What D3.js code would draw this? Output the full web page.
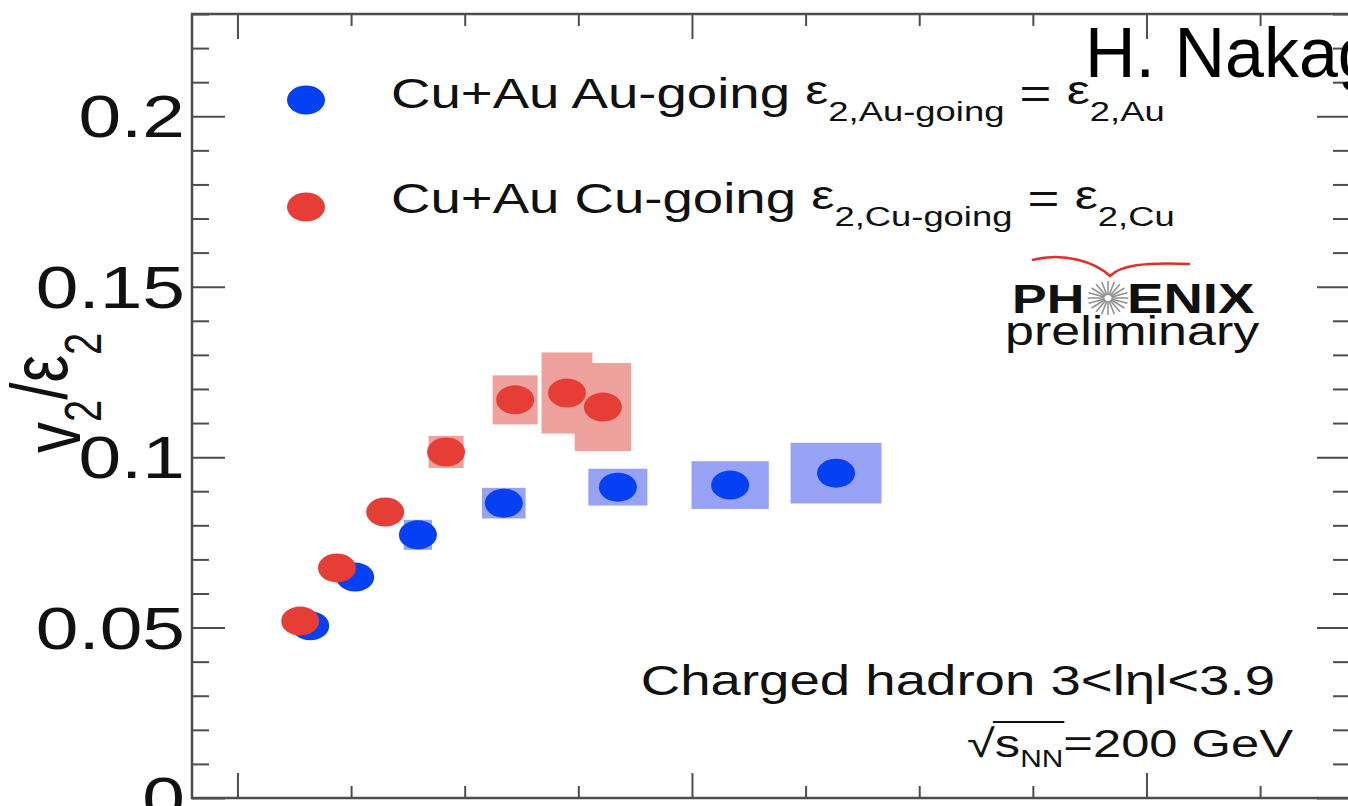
<!DOCTYPE html>
<html>
<head>
<meta charset="utf-8">
<script src="https://cdn.jsdelivr.net/npm/d3@7"></script>
<style>
  html, body { margin: 0; padding: 0; background: #fff; overflow: hidden; }
  svg { display: block; }
  text { font-family: "Liberation Sans", Arial, Helvetica, sans-serif; fill: #111; }
</style>
</head>
<body>
<svg id="chart" width="1348" height="806"></svg>
<script>
// Cu+Au, Au-going side (blue): x, v2/eps2, systematic half-extents
const auX    = [11.60, 12.59, 13.97, 15.86, 18.37, 20.84, 23.17];
const auY    = [0.0505, 0.0648, 0.0772, 0.0865, 0.0912, 0.0918, 0.0953];
const auSysX = [0.25, 0.25, 0.31, 0.48, 0.65, 0.85, 1.00];
const auSysY = [0.0020, 0.0020, 0.0044, 0.0045, 0.0054, 0.0070, 0.0089];

// Cu+Au, Cu-going side (red)
const cuX    = [11.38, 12.19, 13.25, 14.59, 16.11, 17.25, 18.04];
const cuY    = [0.0519, 0.0675, 0.0839, 0.1015, 0.1168, 0.1188, 0.1147];
const cuSysX = [0.25, 0.25, 0.30, 0.385, 0.495, 0.56, 0.62];
const cuSysY = [0.0020, 0.0020, 0.0030, 0.0047, 0.0072, 0.0119, 0.0129];

// Axis ticks
const yMajor = [0, 0.05, 0.1, 0.15, 0.2];
const yTickLabels = ["0", "0.05", "0.1", "0.15", "0.2"];
const xMajor = [10, 20, 30];

const STRETCH = 1.3;           // horizontal aspect of the whole figure
const BLUE = "#0540f2", BLUE_SYS = "#98a2f4";
const RED = "#e63e36", RED_SYS = "#efa19e";
const AXIS = "#4d4d4d";

const svg = d3.select("#chart");

const x = d3.scaleLinear().domain([9, 34.5]).range([192, 1351]);
const y = d3.scaleLinear().domain([0, 0.23]).range([798, 14]);

const yMinor = d3.range(0, 24).map(i => i / 100)
  .filter(v => !yMajor.some(m => Math.abs(m - v) < 1e-9));
const xMinor = d3.range(0, 15).map(i => 2.5 * i)
  .filter(v => v > 9 && v < 34.5 && !xMajor.includes(v));

// ---- systematic boxes ----
function sysBoxes(xs, ys, hx, hy, color) {
  svg.append("g").selectAll("rect")
    .data(xs.map((v, i) => ({ cx: v, cy: ys[i], hx: hx[i], hy: hy[i] })))
    .join("rect")
    .attr("x", d => x(d.cx - d.hx))
    .attr("width", d => x(d.cx + d.hx) - x(d.cx - d.hx))
    .attr("y", d => y(d.cy + d.hy))
    .attr("height", d => y(d.cy - d.hy) - y(d.cy + d.hy))
    .attr("fill", color);
}
sysBoxes(auX, auY, auSysX, auSysY, BLUE_SYS);
sysBoxes(cuX, cuY, cuSysX, cuSysY, RED_SYS);

// ---- markers ----
function markers(xs, ys, color) {
  svg.append("g").selectAll("ellipse")
    .data(xs.map((v, i) => [v, ys[i]]))
    .join("ellipse")
    .attr("cx", d => x(d[0]))
    .attr("cy", d => y(d[1]))
    .attr("rx", 19).attr("ry", 14.5)
    .attr("fill", color);
}
markers(auX, auY, BLUE);
markers(cuX, cuY, RED);

// ---- frame and ticks ----
function ticks(axisFn, scale, values, size, transform) {
  svg.append("g")
    .attr("transform", transform)
    .call(axisFn(scale).tickValues(values).tickSize(size).tickFormat(""))
    .call(g => g.select(".domain").remove())
    .call(g => g.selectAll("line").attr("stroke", AXIS).attr("stroke-width", 2));
}
ticks(d3.axisRight, y, yMajor, 33, "translate(192,0)");
ticks(d3.axisRight, y, yMinor, 17, "translate(192,0)");
ticks(d3.axisLeft, y, yMajor, 33, "translate(1350,0)");
ticks(d3.axisLeft, y, yMinor, 17, "translate(1350,0)");
ticks(d3.axisBottom, x, xMajor, 25, "translate(0,14)");
ticks(d3.axisBottom, x, xMinor, 12, "translate(0,14)");
ticks(d3.axisTop, x, xMajor, 25, "translate(0,798)");
ticks(d3.axisTop, x, xMinor, 12, "translate(0,798)");

svg.append("rect")
  .attr("x", 192).attr("y", 14)
  .attr("width", 1350 - 192).attr("height", 798 - 14)
  .attr("fill", "none").attr("stroke", AXIS).attr("stroke-width", 2.5);

// stretched text helper: a group anchored at (px, py), widened horizontally
function stretched(px, py) {
  return svg.append("g").attr("transform", `translate(${px},${py}) scale(${STRETCH},1)`);
}

// ---- y tick labels ----
yMajor.forEach((v, i) => {
  stretched(185, y(v) + 21).append("text")
    .attr("text-anchor", "end")
    .attr("font-size", 59)
    .text(yTickLabels[i]);
});

// ---- y axis title: v2/eps2 ----
const yt = svg.append("g")
  .attr("transform", `translate(80,453) scale(${STRETCH},1) rotate(-90)`)
  .append("text").attr("font-size", 62);
yt.append("tspan").text("v");
yt.append("tspan").attr("font-size", 40).attr("dy", 16).text("2");
yt.append("tspan").attr("dy", -26).text("/ε");
yt.append("tspan").attr("font-size", 40).attr("dy", 26).text("2");

// ---- legend ----
const legend = [
  { color: BLUE, cy: 100, base: 108, label: "Cu+Au Au-going ", sub1: "2,Au-going", sub2: "2,Au" },
  { color: RED,  cy: 207, base: 213, label: "Cu+Au Cu-going ", sub1: "2,Cu-going", sub2: "2,Cu" }
];
legend.forEach(l => {
  svg.append("ellipse").attr("cx", 306).attr("cy", l.cy)
    .attr("rx", 19).attr("ry", 14.5).attr("fill", l.color);
  const t = stretched(391, l.base).append("text").attr("font-size", 42);
  t.append("tspan").text(l.label);
  t.append("tspan").attr("font-size", 40).attr("dy", -4).text("ε");
  t.append("tspan").attr("font-size", 28).attr("dy", 17).text(l.sub1);
  t.append("tspan").attr("dy", -13).text(" = ");
  t.append("tspan").attr("font-size", 40).attr("dy", -4).text("ε");
  t.append("tspan").attr("font-size", 28).attr("dy", 17).text(l.sub2);
});

// ---- PHENIX preliminary logo ----
svg.append("path")
  .attr("d", "M1032,260 C1065,252 1095,262 1110,276 C1120,266 1140,262 1190,264")
  .attr("fill", "none").attr("stroke", "#e0302a").attr("stroke-width", 2.5);
stretched(1012, 313).append("text")
  .attr("font-size", 40).attr("font-weight", "bold").text("PH");
stretched(1127, 313).append("text")
  .attr("font-size", 42).attr("font-weight", "bold").text("ENIX");
const sun = svg.append("g").attr("transform", "translate(1108,298)");
d3.range(20).forEach(i => {
  const a = i * Math.PI / 10;
  sun.append("line")
    .attr("x1", 3 * Math.cos(a) * 1.2).attr("y1", 3 * Math.sin(a))
    .attr("x2", 17 * Math.cos(a) * 1.2).attr("y2", 17 * Math.sin(a))
    .attr("stroke", "#8f8f8f").attr("stroke-width", 1.5);
});
stretched(1005, 345).append("text")
  .attr("font-size", 40).text("preliminary");

// ---- kinematic annotations ----
stretched(1275, 695).append("text")
  .attr("text-anchor", "end").attr("font-size", 42)
  .text("Charged hadron 3<lηl<3.9");

const sq = stretched(967, 757).append("text").attr("font-size", 39);
sq.append("tspan").text("√");
sq.append("tspan").text("s");
sq.append("tspan").attr("font-size", 23).attr("dy", 10).text("NN");
sq.append("tspan").attr("dy", -10).text("=200 GeV");
// overline of the square root across s_NN
{
  const node = sq.node();
  const end = node.getEndPositionOfChar(3).x;
  const rootEnd = node.getEndPositionOfChar(0).x;
  svg.append("line")
    .attr("x1", 967 + rootEnd * STRETCH - 2).attr("x2", 967 + end * STRETCH + 1)
    .attr("y1", 722).attr("y2", 722)
    .attr("stroke", "#111").attr("stroke-width", 2);
}

// ---- author tag ----
svg.append("text")
  .attr("x", 1085).attr("y", 77)
  .attr("font-family", "Lato, 'Open Sans', Roboto, sans-serif")
  .attr("font-weight", 300).attr("font-size", 70)
  .style("fill", "#000")
  .text("H. Nakagomi");
</script>
</body>
</html>
